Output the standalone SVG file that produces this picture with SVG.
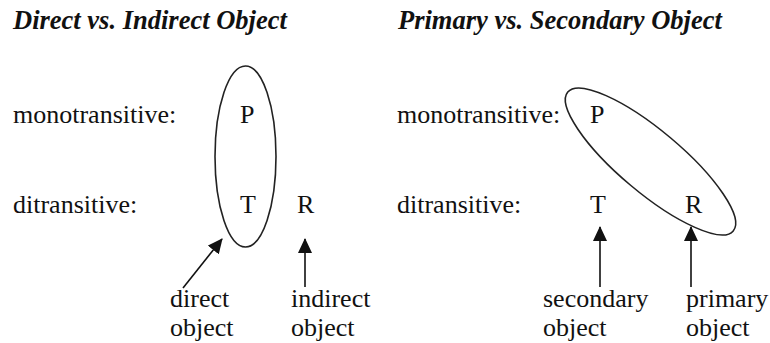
<svg xmlns="http://www.w3.org/2000/svg" width="770" height="343" viewBox="0 0 770 343">
<style>
text{font-family:"Liberation Serif","Times New Roman",serif;fill:#111;}
.t{font-size:26.5px;font-weight:bold;font-style:italic;}
.b{font-size:26px;}
.ell{fill:none;stroke:#222;stroke-width:1.6;}
.arr{stroke:#111;stroke-width:1.6;fill:none;marker-end:url(#ah);}
</style>
<defs>
<marker id="ah" viewBox="0 0 15 14" refX="14" refY="7" markerWidth="15" markerHeight="14" markerUnits="userSpaceOnUse" orient="auto">
<path d="M0,0 L15,7 L0,14 Z" fill="#111"/>
</marker>
</defs>
<rect width="770" height="343" fill="#fff"/>
<g id="left-panel">
<text class="t" x="13" y="29">Direct vs. Indirect Object</text>
<text class="b" x="13" y="123">monotransitive:</text>
<text class="b" x="13" y="213">ditransitive:</text>
</g>
<g id="left-group"><ellipse class="ell" cx="245.5" cy="156.5" rx="30.5" ry="90.5"/></g>
<g id="left-P"><text class="b" x="240" y="123">P</text></g>
<g id="left-T"><text class="b" x="240" y="213">T</text></g>
<g id="left-R"><text class="b" x="297" y="213">R</text></g>
<g id="direct-object"><text class="b" x="170" y="307">direct</text><text class="b" x="170" y="336">object</text></g>
<g id="indirect-object"><text class="b" x="291" y="307">indirect</text><text class="b" x="291" y="336">object</text></g>

<g id="right-panel">
<text class="t" x="398" y="29">Primary vs. Secondary Object</text>
<text class="b" x="397" y="123">monotransitive:</text>
<text class="b" x="397" y="213">ditransitive:</text>
</g>
<g id="right-group"><ellipse class="ell" cx="650.5" cy="161.5" rx="108" ry="31" transform="rotate(40 650.5 161.5)"/></g>
<g id="right-P"><text class="b" x="590" y="123">P</text></g>
<g id="right-T"><text class="b" x="590" y="213">T</text></g>
<g id="right-R"><text class="b" x="685" y="213">R</text></g>
<g id="secondary-object"><text class="b" x="543" y="307">secondary</text><text class="b" x="543" y="336">object</text></g>
<g id="primary-object"><text class="b" x="686" y="307">primary</text><text class="b" x="686" y="336">object</text></g>

<g id="connectors">
<line class="arr" x1="183" y1="288" x2="222" y2="239"/>
<line class="arr" x1="305" y1="287" x2="305" y2="239"/>
<line class="arr" x1="600" y1="287" x2="600" y2="227"/>
<line class="arr" x1="691" y1="287" x2="691" y2="227"/>
</g>
</svg>
